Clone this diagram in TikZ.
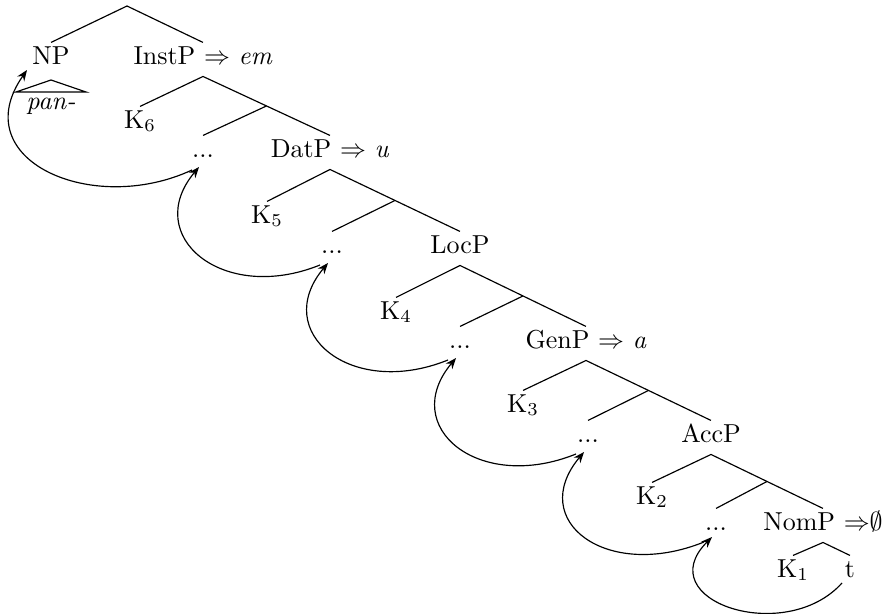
\documentclass[tikz,border=0pt]{standalone}
\usetikzlibrary{arrows.meta,calc}
\begin{document}
\begin{tikzpicture}[x=0.385pt,y=0.385pt,
  lab/.style={anchor=base,inner sep=0pt,text height=8.1pt,text depth=4.6pt},
  br/.style={line width=0.45pt},
  mv/.style={-{Stealth[length=4.2pt,width=3.3pt,inset=1.4pt]},line width=0.45pt}]
\useasboundingbox (0,0) rectangle (886,-613);
% root
\node[lab] (NP) at (51,-64) {NP};
\node[lab] (InstP) at (203,-64) {InstP $\Rightarrow$ \textit{em}};
\coordinate (R0) at (127,-6);
\draw[br] (NP.north) -- (R0) -- (InstP.north);
% triangle
\coordinate (TA) at (51,-80);
\coordinate (TL) at (16,-92);
\coordinate (TR) at (86,-92);
\draw[br] (TL) -- (TA) -- (TR) -- cycle;
\node[anchor=base,inner sep=0pt] (pan) at (51,-109) {\textit{pan-}};
% level 1
\node[lab] (K6) at (140,-128) {K$_6$};
\node[lab] (d1) at (203,-157) {...};
\node[lab] (DatP) at (330,-157) {DatP $\Rightarrow$ \textit{u}};
\coordinate (J1) at ($(InstP.south)!0.5!(DatP.north)$);
\draw[br] (K6.north) -- (InstP.south) -- (DatP.north);
\draw[br] (J1) -- (d1.north);
% level 2
\node[lab] (K5) at (267,-223) {K$_5$};
\node[lab] (d2) at (332,-253) {...};
\node[lab] (LocP) at (460,-253) {LocP};
\coordinate (J2) at ($(DatP.south)!0.5!(LocP.north)$);
\draw[br] (K5.north) -- (DatP.south) -- (LocP.north);
\draw[br] (J2) -- (d2.north);
% level 3
\node[lab] (K4) at (396,-319) {K$_4$};
\node[lab] (d3) at (460,-348) {...};
\node[lab] (GenP) at (586,-348) {GenP $\Rightarrow$ \textit{a}};
\coordinate (J3) at ($(LocP.south)!0.5!(GenP.north)$);
\draw[br] (K4.north) -- (LocP.south) -- (GenP.north);
\draw[br] (J3) -- (d3.north);
% level 4
\node[lab] (K3) at (523,-412) {K$_3$};
\node[lab] (d4) at (588,-442) {...};
\node[lab] (AccP) at (711,-442) {AccP};
\coordinate (J4) at ($(GenP.south)!0.5!(AccP.north)$);
\draw[br] (K3.north) -- (GenP.south) -- (AccP.north);
\draw[br] (J4) -- (d4.north);
% level 5
\node[lab] (K2) at (652,-504) {K$_2$};
\node[lab] (d5) at (716,-530) {...};
\node[lab] (NomP) at (823,-530) {NomP {$\Rightarrow$}{$\emptyset$}};
\coordinate (J5) at ($(AccP.south)!0.5!(NomP.north)$);
\draw[br] (K2.north) -- (AccP.south) -- (NomP.north);
\draw[br] (J5) -- (d5.north);
% level 6
\node[lab] (K1) at (793,-577) {K$_1$};
\node[lab] (t) at (850,-577) {t};
\draw[br] (K1.north) -- (NomP.south) -- (t.north);
% movement arrows
\draw[mv] ([shift={(-11,-13)}]d1.base) .. controls +(205:110) and +(235:110) .. ([shift={(-24,-6)}]NP.base);
\draw[mv] ([shift={(-12,-12)}]d2.base) .. controls +(202:105) and +(230:90) .. ([shift={(-4,-10)}]d1.base);
\draw[mv] ([shift={(-12,-12)}]d3.base) .. controls +(202:105) and +(230:90) .. ([shift={(-4,-10)}]d2.base);
\draw[mv] ([shift={(-12,-12)}]d4.base) .. controls +(202:105) and +(230:90) .. ([shift={(-4,-10)}]d3.base);
\draw[mv] ([shift={(-12,-12)}]d5.base) .. controls +(202:105) and +(230:90) .. ([shift={(-4,-10)}]d4.base);
\draw[mv] ([shift={(-8,-6)}]t.base) .. controls +(228:85) and +(225:90) .. ([shift={(-4,-7)}]d5.base);
\end{tikzpicture}
\end{document}
